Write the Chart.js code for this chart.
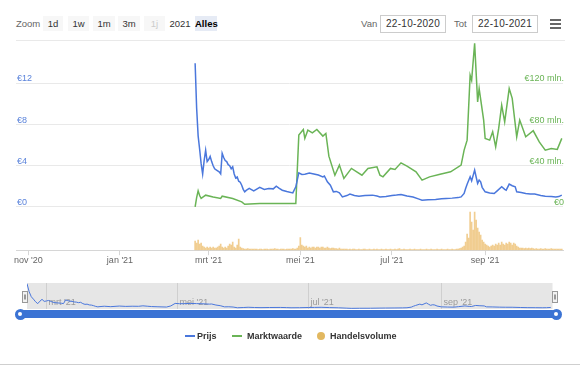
<!DOCTYPE html>
<html>
<head>
<meta charset="utf-8">
<script src="https://cdn.jsdelivr.net/npm/chart.js@4.4.0/dist/chart.umd.min.js"></script>
<style>
html,body{margin:0;padding:0;background:#fff;}
body{width:580px;height:366px;overflow:hidden;font-family:"Liberation Sans",Arial,Helvetica,sans-serif;}
#wrap{position:relative;width:580px;height:366px;}
.a{position:absolute;}
.lbl{font-size:9.5px;color:#666;line-height:15px;}
.btn{top:16px;height:15px;line-height:15px;font-size:9.5px;color:#333;text-align:center;background:#f7f7f7;}
.btn.off{color:#ccc;}
.btn.sel{background:#e6ebf5;font-weight:bold;color:#000;}
.btn.nobg{background:transparent;}
.date{top:15px;height:16px;line-height:16px;width:64px;border:1px solid #ccc;font-size:10px;color:#333;text-align:center;letter-spacing:0.3px;}
.bar{left:550px;width:11px;height:2px;background:#666;}
.leg{top:330px;font-size:9px;font-weight:bold;color:#333;line-height:12px;}
</style>
</head>
<body>
<div id="wrap">
  <div class="a lbl" style="left:16px;top:16px;">Zoom</div>
  <div class="a btn" style="left:43px;width:20px;">1d</div>
  <div class="a btn" style="left:68px;width:21px;">1w</div>
  <div class="a btn" style="left:93px;width:22px;">1m</div>
  <div class="a btn" style="left:118px;width:22px;">3m</div>
  <div class="a btn off" style="left:144px;width:21px;">1j</div>
  <div class="a btn nobg" style="left:168px;width:24px;">2021</div>
  <div class="a btn sel" style="left:195px;width:22px;">Alles</div>

  <div class="a lbl" style="left:361px;top:16px;">Van</div>
  <div class="a date" style="left:380px;">22-10-2020</div>
  <div class="a lbl" style="left:454px;top:16px;">Tot</div>
  <div class="a date" style="left:472px;">22-10-2021</div>
  <div class="a bar" style="top:19px;"></div>
  <div class="a bar" style="top:23px;"></div>
  <div class="a bar" style="top:27px;"></div>

  <div class="a" style="left:16px;top:40px;width:549px;height:1px;background:#e9e9e9;"></div>

  <canvas id="main" class="a" width="580" height="275" style="left:0;top:0;"></canvas>
  <canvas id="nav" class="a" width="580" height="40" style="left:0;top:276px;"></canvas>

  <div class="a" style="left:20px;top:310px;width:536px;height:8px;border-radius:4px;background:#3b73d4;"></div>
  <div class="a" style="left:14.5px;top:308.5px;width:11px;height:11px;border-radius:50%;background:#3b73d4;"></div>
  <div class="a" style="left:18px;top:312px;width:4px;height:4px;border-radius:50%;background:#fff;"></div>
  <div class="a" style="left:550.5px;top:308.5px;width:11px;height:11px;border-radius:50%;background:#3b73d4;"></div>
  <div class="a" style="left:554px;top:312px;width:4px;height:4px;border-radius:50%;background:#fff;"></div>

  <div class="a" style="left:185px;top:335px;width:10px;height:2px;background:#4a77dc;"></div>
  <div class="a leg" style="left:197px;">Prijs</div>
  <div class="a" style="left:232px;top:335px;width:10px;height:2px;background:#6ab456;"></div>
  <div class="a leg" style="left:247px;">Marktwaarde</div>
  <div class="a" style="left:317px;top:332px;width:8px;height:8px;border-radius:50%;background:#e2b860;"></div>
  <div class="a leg" style="left:330px;">Handelsvolume</div>

  <div class="a" style="left:0;top:364px;width:580px;height:1px;background:#cfcfcf;"></div>
</div>
<script>
const DAY = 86400000;
const T = s => Date.UTC(+s.slice(0,4), +s.slice(5,7) - 1, +s.slice(8,10));

// ---- axis / tick labels ----
const xTickDates  = ['2020-11-01','2021-01-01','2021-03-01','2021-05-01','2021-07-01','2021-09-01'];
const xTickLabels = ["nov '20","jan '21","mrt '21","mei '21","jul '21","sep '21"];
const navTickDates  = ['2021-03-01','2021-05-01','2021-07-01','2021-09-01'];
const navTickLabels = ["mrt '21","mei '21","jul '21","sep '21"];
const priceTicks = [0, 4, 8, 12];
const mcapTicks  = [0, 40, 80, 120];

// ---- Prijs (EUR) ----
const priceDates = [
 '2021-02-20','2021-02-21','2021-02-22','2021-02-23','2021-02-24','2021-02-25','2021-02-26','2021-02-27','2021-02-28',
 '2021-03-01','2021-03-02','2021-03-03','2021-03-04','2021-03-05','2021-03-06','2021-03-07','2021-03-08','2021-03-09',
 '2021-03-10','2021-03-11','2021-03-12','2021-03-13','2021-03-14','2021-03-15','2021-03-16','2021-03-17','2021-03-18',
 '2021-03-19','2021-03-20','2021-03-21','2021-03-22','2021-03-23','2021-03-24','2021-03-25','2021-03-26','2021-03-28',
 '2021-03-31','2021-04-04','2021-04-07','2021-04-10','2021-04-13','2021-04-15','2021-04-17','2021-04-19','2021-04-22',
 '2021-04-26','2021-04-28','2021-04-30','2021-05-02','2021-05-04','2021-05-07','2021-05-10','2021-05-13','2021-05-16',
 '2021-05-17','2021-05-19','2021-05-21','2021-05-23','2021-05-25','2021-05-27','2021-05-29','2021-06-01','2021-06-03',
 '2021-06-06','2021-06-09','2021-06-13','2021-06-18','2021-06-21','2021-06-23','2021-06-27','2021-07-01','2021-07-04',
 '2021-07-07','2021-07-11','2021-07-15','2021-07-19','2021-07-21','2021-07-25','2021-07-30','2021-08-03','2021-08-06',
 '2021-08-10','2021-08-14','2021-08-16','2021-08-18','2021-08-19','2021-08-20','2021-08-22','2021-08-23','2021-08-25',
 '2021-08-26','2021-08-27','2021-08-28','2021-08-29','2021-08-30','2021-09-01','2021-09-04','2021-09-07','2021-09-09',
 '2021-09-12','2021-09-14','2021-09-15','2021-09-17','2021-09-19','2021-09-21','2021-09-22','2021-09-25','2021-09-28',
 '2021-10-01','2021-10-04','2021-10-08','2021-10-11','2021-10-15','2021-10-18','2021-10-20','2021-10-22'
];
const priceValues = [
 13.95, 9.6, 6.9, 5.6, 4.2, 3.18, 4.5, 5.5, 4.4,
 4.6, 4.9, 4.4, 4.0, 3.7, 3.6, 3.5, 3.4, 3.2,
 5.2, 4.8, 4.5, 4.4, 4.1, 4.0, 3.7, 3.9, 3.2,
 2.8, 2.9, 2.5, 2.4, 2.1, 1.7, 1.46, 1.6, 1.79,
 1.56, 1.89, 1.7, 1.79, 1.75, 2.01, 1.8, 1.62, 1.5,
 1.36, 1.95, 3.31, 3.15, 3.18, 3.3, 3.2, 3.1, 2.92,
 3.0, 2.43, 2.1, 1.46, 1.5, 1.36, 0.97, 1.1, 1.24,
 1.1, 1.04, 1.1, 1.14, 1.05, 0.97, 1.0, 1.1, 1.15,
 1.21, 1.05, 0.95, 0.75, 0.65, 0.7, 0.72, 0.78, 0.82,
 0.85, 0.9, 0.97, 1.3, 1.79, 2.2, 2.92, 2.53, 3.57,
 2.9, 2.28, 2.6, 2.43, 1.9, 1.46, 1.35, 1.30, 1.56,
 1.95, 1.7, 1.62, 2.21, 2.05, 1.95, 1.46, 1.4, 1.30,
 1.25, 1.24, 1.1, 1.04, 1.0, 0.97, 1.0, 1.14
];

// ---- Marktwaarde (mln. EUR) ----
const mcapDates = [
 '2021-02-20','2021-02-21','2021-02-22','2021-02-23','2021-02-24','2021-02-27','2021-03-04','2021-03-09','2021-03-10',
 '2021-03-17','2021-03-23','2021-03-25','2021-04-04','2021-04-28','2021-04-30','2021-05-03','2021-05-04','2021-05-06',
 '2021-05-09','2021-05-12','2021-05-16','2021-05-18','2021-05-20','2021-05-24','2021-05-27','2021-05-30','2021-06-04',
 '2021-06-11','2021-06-15','2021-06-21','2021-06-23','2021-06-25','2021-06-30','2021-07-03','2021-07-07','2021-07-11',
 '2021-07-17','2021-07-21','2021-07-26','2021-08-02','2021-08-09','2021-08-16','2021-08-18','2021-08-20','2021-08-22',
 '2021-08-23','2021-08-25','2021-08-27','2021-08-28','2021-08-31','2021-09-01','2021-09-04','2021-09-06','2021-09-08',
 '2021-09-10','2021-09-12','2021-09-14','2021-09-17','2021-09-19','2021-09-22','2021-09-24','2021-09-28','2021-10-03',
 '2021-10-07','2021-10-11','2021-10-15','2021-10-19','2021-10-22'
];
const mcapValues = [
 0, 9, 15.6, 11, 8.2, 11.4, 9.7, 8.2, 10.4,
 8.2, 4.9, 2.6, 3.3, 3.3, 69.8, 75.3, 66.6, 74.6,
 72, 75.3, 68.8, 71.4, 49.3, 30.8, 40.6, 27.6, 37.4,
 30.8, 37.4, 38.9, 30.8, 29.2, 37.4, 36.4, 42.8, 39.6,
 34.1, 26, 29.2, 31.8, 34.1, 40.6, 55.2, 64.9, 128,
 123, 159, 102, 115, 84.4, 66.6, 64.9, 73, 58.4,
 76.3, 99, 82.7, 115, 105.5, 68.1, 84.4, 68.1, 74,
 63.2, 55.2, 56.8, 55.9, 66.6
];

// ---- Handelsvolume (daily, from volumeStart) ----
const volumeStart = '2021-02-20';
const volumeValues = [
 // Feb 20-28
 9,7,10,6,7,4,3,2,3,
 // Mar
 2,3,2,3,2,2,3,4,6,3,2,3,2,4,6,5,8,3,2,5,11,3,2,1.5,1,1,1.5,1,1,1,1,
 // Apr
 1,1,0.5,1,1,0.5,1,1,1,0.5,1,1,1,1.5,1,1,0.5,1,1,1,0.5,1,1,1,1,1.5,1,1,2,4,
 // May
 12.5,5,4,3,4,2,3,2,3,3,2,3,3,2,3,3,2,2,3,2,1.5,2,2,1.5,1.5,1,2,1,1,1,1,
 // Jun
 1,0.5,1,0.5,1,1,0.5,0.5,1,0.5,0.5,1,1,0.5,0.5,1,0.5,0.5,1,0.5,1,0.5,0.5,1,0.5,0.5,1,0.5,0.5,1,
 // Jul
 0.5,0.5,1,0.5,1,1.5,0.5,0.5,1,0.5,0.5,0.5,1,0.5,0.5,1,0.5,0.5,0.5,1,0.5,0.5,0.5,1,0.5,0.5,1,0.5,0.5,0.5,1,
 // Aug
 0.5,0.5,1,0.5,0.5,0.5,1,0.5,0.5,1,0.5,0.5,1,1,1.5,2,3,4,8,16,12,38,28,20,38,30,22,18,15,10,8,
 // Sep
 6,5,4,3,4,5,4,6,5,7,5,8,6,5,7,6,8,7,5,7,6,4,3,2,2,2,1.5,2,1.5,2,
 // Oct 1-22
 1.5,2,1.5,1,1.5,1,1,1.5,1,1,1.5,1,1,1,1.5,1,1,1,1,1,1,1
];

const BLUE = '#4a77dc', GREEN = '#6ab456';

const pricePts = priceDates.map((d, i) => ({x: T(d), y: priceValues[i]}));
const mcapPts  = mcapDates.map((d, i) => ({x: T(d), y: mcapValues[i]}));
const volPts   = volumeValues.map((v, i) => ({x: T(volumeStart) + i * DAY, y: v}));

const X_MIN = T('2020-10-22') + 1.8 * DAY;
const X_MAX = T('2021-10-22') + 0.8 * DAY;

const font9 = {family: '"Liberation Sans", Arial, sans-serif', size: 9};

new Chart(document.getElementById('main'), {
  data: {
    datasets: [
      {type: 'line', label: 'Prijs', data: pricePts, yAxisID: 'y', borderColor: BLUE, borderWidth: 1.5,
       pointRadius: 0, tension: 0, order: 1},
      {type: 'line', label: 'Marktwaarde', data: mcapPts, yAxisID: 'y2', borderColor: GREEN, borderWidth: 1.5,
       pointRadius: 0, tension: 0, order: 2},
      {type: 'bar', label: 'Handelsvolume', data: volPts, yAxisID: 'yv', backgroundColor: 'rgba(236,190,110,0.75)',
       barThickness: 1, borderWidth: 0, order: 3}
    ]
  },
  options: {
    responsive: false, animation: false, events: [],
    layout: {padding: {left: 14, right: 15, top: 42, bottom: 9}},
    plugins: {legend: {display: false}, tooltip: {enabled: false}},
    scales: {
      x: {type: 'linear', position: 'bottom', min: X_MIN, max: X_MAX, offset: false,
          afterBuildTicks: s => { s.ticks = xTickDates.map(d => ({value: T(d)})); },
          grid: {offset: false, drawOnChartArea: false, drawTicks: true, tickLength: 5, color: '#d6d6d6'},
          border: {display: true, color: '#d6d6d6'},
          ticks: {autoSkip: false, maxRotation: 0, padding: 0, color: '#666', font: font9,
                  callback: v => { const i = xTickDates.findIndex(d => T(d) === v); return i >= 0 ? xTickLabels[i] : ''; }}},
      y: {position: 'left', min: -4.21, max: 16.02,
          afterBuildTicks: s => { s.ticks = priceTicks.map(v => ({value: v})); },
          grid: {color: '#e9e9e9', drawTicks: false}, border: {display: false},
          ticks: {mirror: true, padding: 1, labelOffset: -4.5, color: '#5a83db', font: font9,
                  callback: v => '€' + v}},
      y2: {position: 'right', min: -42.1, max: 160.3,
          afterBuildTicks: s => { s.ticks = mcapTicks.map(v => ({value: v})); },
          grid: {display: false, drawTicks: false}, border: {display: false},
          ticks: {mirror: true, padding: 1, labelOffset: -4.5, color: GREEN, font: font9,
                  callback: v => v === 0 ? '€0' : '€' + v + ' mln.'}},
      yv: {display: false, min: 0, max: 208}
    }
  }
});

const navPlugin = {
  id: 'navDeco',
  beforeDatasetsDraw(chart) {
    const {ctx, chartArea: a, scales: {x}} = chart;
    ctx.save();
    ctx.fillStyle = '#e6e6e6';
    ctx.fillRect(a.left, a.top, a.right - a.left, a.bottom - a.top);
    ctx.strokeStyle = '#cfcfcf'; ctx.lineWidth = 1;
    ctx.font = '9px "Liberation Sans", Arial, sans-serif';
    ctx.fillStyle = '#9a9a9a'; ctx.textBaseline = 'middle'; ctx.textAlign = 'left';
    navTickDates.forEach((d, i) => {
      const px = Math.round(x.getPixelForValue(T(d))) + 0.5;
      ctx.beginPath(); ctx.moveTo(px, a.top); ctx.lineTo(px, a.bottom); ctx.stroke();
      ctx.fillText(navTickLabels[i], px + 2, a.bottom - 6);
    });
    ctx.restore();
  },
  afterDatasetsDraw(chart) {
    const {ctx, chartArea: a} = chart;
    const mid = (a.top + a.bottom) / 2;
    ctx.save();
    [a.left - 5, a.right - 1].forEach(hx => {
      const x0 = Math.round(hx) + 0.5, y0 = Math.round(mid - 5.5) + 0.5;
      ctx.fillStyle = '#f2f2f2'; ctx.strokeStyle = '#999';
      ctx.fillRect(x0, y0, 5, 11); ctx.strokeRect(x0, y0, 5, 11);
      ctx.beginPath(); ctx.moveTo(x0 + 2, y0 + 3); ctx.lineTo(x0 + 2, y0 + 8);
      ctx.moveTo(x0 + 3, y0 + 3); ctx.lineTo(x0 + 3, y0 + 8); ctx.stroke();
    });
    ctx.restore();
  }
};

new Chart(document.getElementById('nav'), {
  type: 'line',
  data: {datasets: [{data: pricePts, borderColor: BLUE, borderWidth: 1, pointRadius: 0, tension: 0}]},
  options: {
    responsive: false, animation: false, events: [],
    layout: {padding: {left: 27, right: 27.5, top: 7, bottom: 7}},
    plugins: {legend: {display: false}, tooltip: {enabled: false}},
    scales: {
      x: {type: 'linear', display: false, min: T('2021-02-20'), max: T('2021-10-22') + 0.8 * DAY},
      y: {display: false, min: 0.3, max: 14.3}
    }
  },
  plugins: [navPlugin]
});
</script>
</body>
</html>
